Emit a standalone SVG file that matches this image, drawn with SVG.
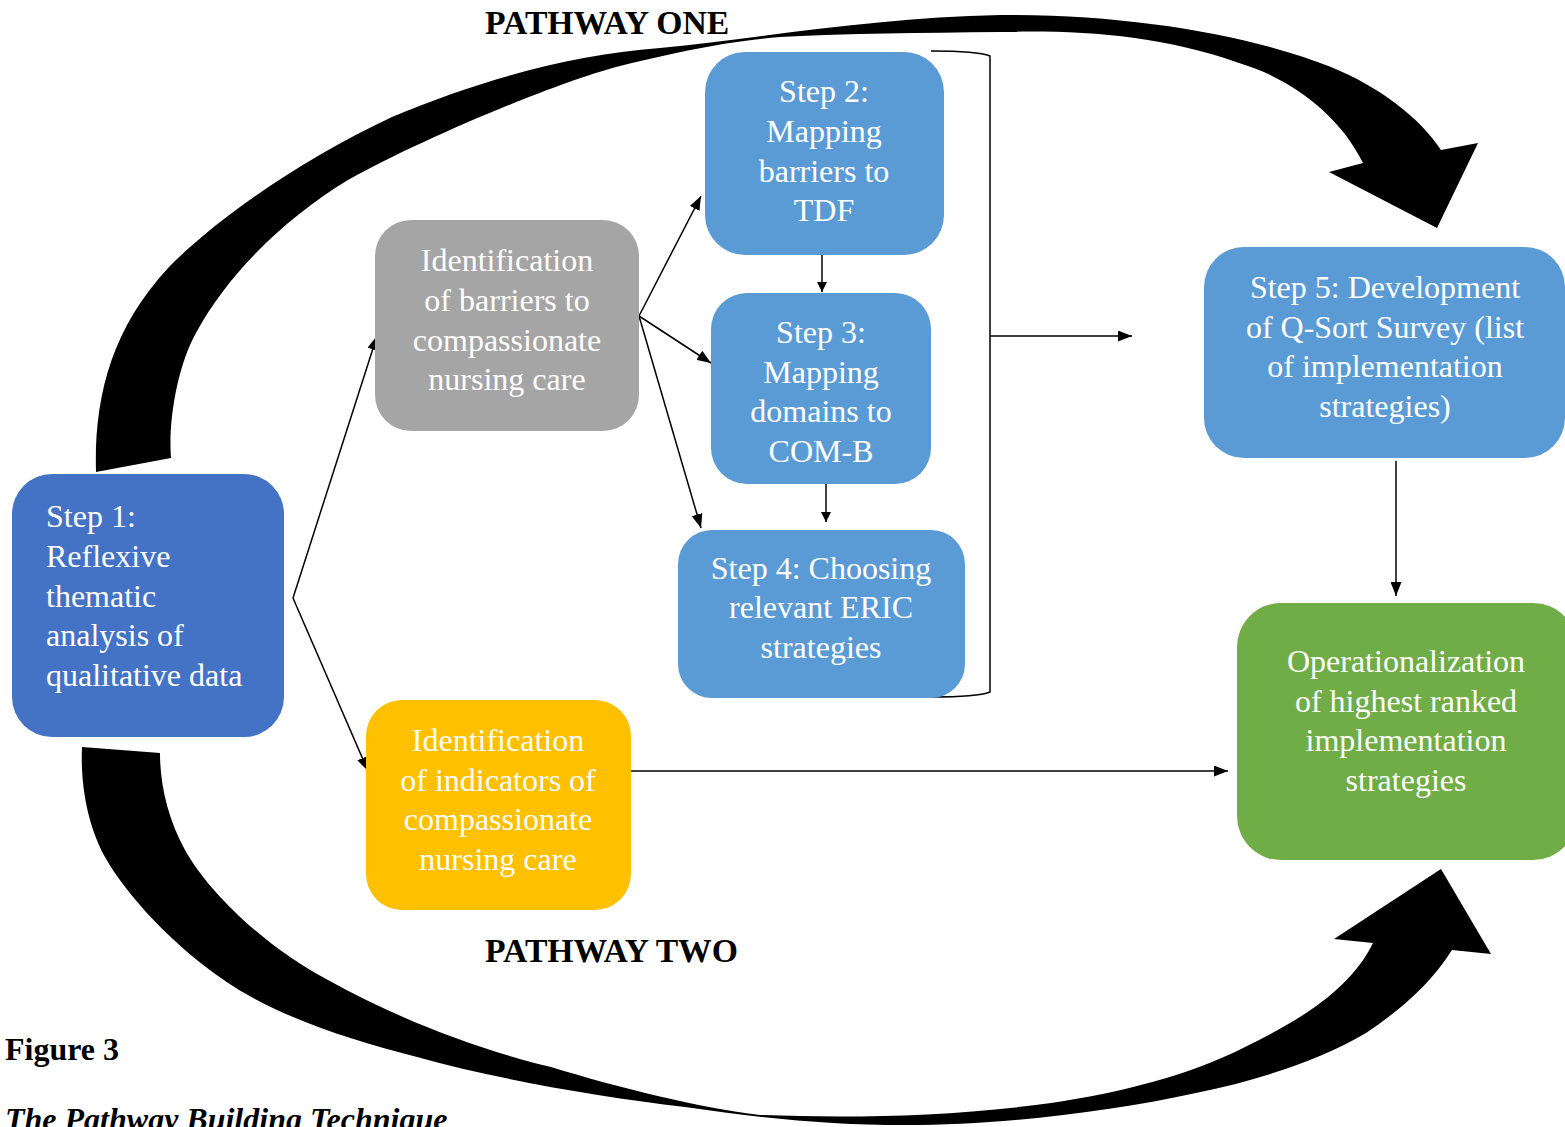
<svg xmlns="http://www.w3.org/2000/svg" width="1565" height="1127" viewBox="0 0 1565 1127">
<style>
.box text{font-family:"Liberation Serif","Times New Roman",serif;font-size:32px;fill:#ffffff;text-anchor:middle}
.lbl{font-family:"Liberation Serif","Times New Roman",serif;font-size:32px;font-weight:bold;fill:#000}
.pw{font-size:33.7px}
.conn line{stroke:#000;stroke-width:1.5;marker-end:url(#ah)}
.big{fill:#000}
</style>
<defs>
<marker id="ah" viewBox="0 0 10 10" refX="10" refY="5" markerWidth="10" markerHeight="10" markerUnits="userSpaceOnUse" orient="auto">
<path d="M0,0 L10,5 L0,10 Z" fill="#000"/>
</marker>
<marker id="ah2" viewBox="0 0 14 11" refX="14" refY="5.5" markerWidth="14" markerHeight="11" markerUnits="userSpaceOnUse" orient="auto">
<path d="M0,0 L14,5.5 L0,11 Z" fill="#000"/>
</marker>
</defs>
<rect width="1565" height="1127" fill="#fff"/>

<g id="arc-top">
<path class="big" d="M96,472 C94,400 110,330 169,267 C215,220 300,160 392,117 C480,80 570,55 660,48 C760,38 880,17 1000,15 C1130,14 1250,35 1331,67 C1380,87 1420,118 1441,150 L1478,143 L1437,228 L1329,172 L1363,163 C1340,115 1290,78 1239,63 C1160,35 1080,30 1000,32 C920,33 850,33 780,37 C720,42 665,55 616,67 C550,85 420,140 348,180 C290,215 230,270 196,333 C178,365 168,420 171,458 Z"/>
</g>
<g id="arc-bottom">
<path class="big" d="M82,747 C80,790 90,830 105,857 C125,893 175,950 239,990 C290,1020 350,1040 417,1057 C500,1080 600,1097 685,1107 C760,1118 830,1125 905,1125 C1000,1125 1110,1112 1196,1093 C1260,1080 1320,1060 1366,1033 C1400,1010 1430,985 1452,950 L1491,954 L1441,869 L1334,939 L1373,943 C1350,990 1300,1020 1245,1047 C1190,1075 1120,1093 1051,1103 C950,1117 850,1118 760,1115 C700,1108 620,1088 551,1067 C480,1050 400,1020 328,980 C270,950 210,895 185,850 C168,819 160,785 160,753 Z"/>
</g>

<g id="connectors" class="conn">
<line x1="293" y1="598" x2="377" y2="336" style="marker-end:url(#ah2)"/>
<line x1="293" y1="598" x2="368" y2="771" style="marker-end:url(#ah2)"/>
<line x1="639" y1="316" x2="701" y2="196" style="marker-end:url(#ah2)"/>
<line x1="639" y1="316" x2="711" y2="363" style="marker-end:url(#ah2)"/>
<line x1="639" y1="316" x2="701" y2="528" style="marker-end:url(#ah2)"/>
<line x1="822" y1="255" x2="822" y2="292"/>
<line x1="826" y1="480" x2="826" y2="522"/>
<line x1="990" y1="336" x2="1132" y2="336" style="marker-end:url(#ah2)"/>
<line x1="1396" y1="461" x2="1396" y2="596" style="marker-end:url(#ah2)"/>
<line x1="631" y1="771" x2="1228" y2="771" style="marker-end:url(#ah2)"/>
<path d="M931,51 C960,51 980,52 990,56 L990,692 C980,696 960,697 931,697" fill="none" stroke="#000" stroke-width="1.5"/>
</g>

<g id="step1" class="box">
<rect x="12" y="474" width="272" height="263" rx="40" fill="#4472C4"/>
<text x="46" y="527" style="text-anchor:start">Step 1:</text>
<text x="46" y="567" style="text-anchor:start">Reflexive</text>
<text x="46" y="607" style="text-anchor:start">thematic</text>
<text x="46" y="646" style="text-anchor:start">analysis of</text>
<text x="46" y="686" style="text-anchor:start">qualitative data</text>
</g>

<g id="barriers" class="box">
<rect x="375" y="220" width="264" height="211" rx="36" fill="#A5A5A5"/>
<text x="507" y="271">Identification</text>
<text x="507" y="311">of barriers to</text>
<text x="507" y="351">compassionate</text>
<text x="507" y="390">nursing care</text>
</g>

<g id="step2" class="box">
<rect x="705" y="52" width="239" height="203" rx="40" fill="#5B9BD5"/>
<text x="824" y="102">Step 2:</text>
<text x="824" y="142">Mapping</text>
<text x="824" y="182">barriers to</text>
<text x="824" y="221">TDF</text>
</g>

<g id="step3" class="box">
<rect x="711" y="293" width="220" height="191" rx="36" fill="#5B9BD5"/>
<text x="821" y="343">Step 3:</text>
<text x="821" y="383">Mapping</text>
<text x="821" y="422">domains to</text>
<text x="821" y="462">COM-B</text>
</g>

<g id="step4" class="box">
<rect x="678" y="530" width="287" height="168" rx="34" fill="#5B9BD5"/>
<text x="821" y="579">Step 4: Choosing</text>
<text x="821" y="618">relevant ERIC</text>
<text x="821" y="658">strategies</text>
</g>

<g id="indicators" class="box">
<rect x="366" y="700" width="265" height="210" rx="36" fill="#FFC000"/>
<text x="498" y="751">Identification</text>
<text x="498" y="791">of indicators of</text>
<text x="498" y="830">compassionate</text>
<text x="498" y="870">nursing care</text>
</g>

<g id="step5" class="box">
<rect x="1204" y="247" width="361" height="211" rx="40" fill="#5B9BD5"/>
<text x="1385" y="298">Step 5: Development</text>
<text x="1385" y="338">of Q-Sort Survey (list</text>
<text x="1385" y="377">of implementation</text>
<text x="1385" y="417">strategies)</text>
</g>

<g id="operationalization" class="box">
<rect x="1237" y="603" width="340" height="257" rx="44" fill="#70AD47"/>
<text x="1406" y="672">Operationalization</text>
<text x="1406" y="712">of highest ranked</text>
<text x="1406" y="751">implementation</text>
<text x="1406" y="791">strategies</text>
</g>

<text class="lbl pw" x="485" y="34">PATHWAY ONE</text>
<text class="lbl pw" x="485" y="962">PATHWAY TWO</text>
<text class="lbl" x="5" y="1060">Figure 3</text>
<text class="lbl" x="5" y="1130" font-style="italic">The Pathway Building Technique</text>
</svg>
